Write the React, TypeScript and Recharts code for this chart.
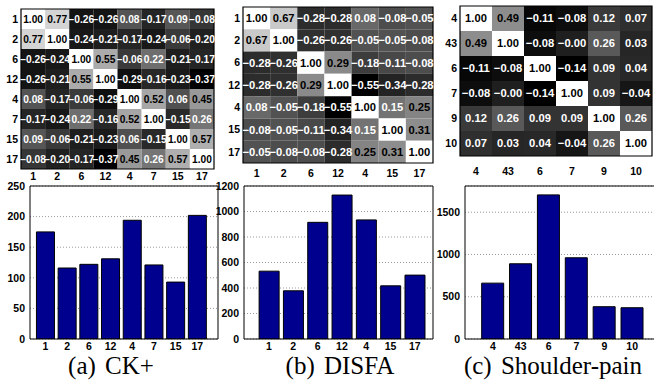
import React from 'react';
import {
  ScatterChart,
  Scatter,
  XAxis,
  YAxis,
  ReferenceArea,
  BarChart,
  Bar,
  CartesianGrid,
} from 'recharts';

// (a) CK+
const ckAus = ['1', '2', '6', '12', '4', '7', '15', '17'];
const ckCorr = [
  [1.0, 0.77, -0.26, -0.26, 0.08, -0.17, 0.09, -0.08],
  [0.77, 1.0, -0.24, -0.21, -0.17, -0.24, -0.06, -0.2],
  [-0.26, -0.24, 1.0, 0.55, -0.06, 0.22, -0.21, -0.17],
  [-0.26, -0.21, 0.55, 1.0, -0.29, -0.16, -0.23, -0.37],
  [0.08, -0.17, -0.06, -0.29, 1.0, 0.52, 0.06, 0.45],
  [-0.17, -0.24, 0.22, -0.16, 0.52, 1.0, -0.15, 0.26],
  [0.09, -0.06, -0.21, -0.23, 0.06, -0.15, 1.0, 0.57],
  [-0.08, -0.2, -0.17, -0.37, 0.45, 0.26, 0.57, 1.0],
];
const ckCounts = [175, 116, 122, 131, 194, 121, 93, 202];
const ckTicks = [0, 50, 100, 150, 200, 250];
const ckMax = 250;

// (b) DISFA
const disfaAus = ['1', '2', '6', '12', '4', '15', '17'];
const disfaCorr = [
  [1.0, 0.67, -0.28, -0.28, 0.08, -0.08, -0.05],
  [0.67, 1.0, -0.26, -0.26, -0.05, -0.05, -0.08],
  [-0.28, -0.26, 1.0, 0.29, -0.18, -0.11, -0.08],
  [-0.28, -0.26, 0.29, 1.0, -0.55, -0.34, -0.28],
  [0.08, -0.05, -0.18, -0.55, 1.0, 0.15, 0.25],
  [-0.08, -0.05, -0.11, -0.34, 0.15, 1.0, 0.31],
  [-0.05, -0.08, -0.08, -0.28, 0.25, 0.31, 1.0],
];
const disfaCounts = [532, 378, 915, 1129, 934, 417, 501];
const disfaTicks = [0, 200, 400, 600, 800, 1000, 1200];
const disfaMax = 1200;

// (c) Shoulder-pain
const painAus = ['4', '43', '6', '7', '9', '10'];
const painCorr = [
  [1.0, 0.49, -0.11, -0.08, 0.12, 0.07],
  [0.49, 1.0, -0.08, -0.0, 0.26, 0.03],
  [-0.11, -0.08, 1.0, -0.14, 0.09, 0.04],
  [-0.08, -0.0, -0.14, 1.0, 0.09, -0.04],
  [0.12, 0.26, 0.09, 0.09, 1.0, 0.26],
  [0.07, 0.03, 0.04, -0.04, 0.26, 1.0],
];
const painCounts = [661, 890, 1705, 961, 382, 370];
const painTicks = [0, 500, 1000, 1500];
const painMax = 1810;

const SANS = '"Liberation Sans", Arial, sans-serif';
const tickStyle = { fill: '#000', fontSize: 10.5, fontWeight: 'bold', fontFamily: SANS };

const fmt = (v: number) =>
  (v < 0 || Object.is(v, -0) ? '\u2212' : '') + Math.abs(v).toFixed(2);

type Margin = { top: number; right: number; left: number; bottom: number };

function Heatmap({
  labels, corr, width, height, margin, yAxisWidth, xAxisHeight, tickMargin, fontSize,
}: {
  labels: string[]; corr: number[][]; width: number; height: number; margin: Margin;
  yAxisWidth: number; xAxisHeight: number; tickMargin: number; fontSize: number;
}) {
  const n = labels.length;
  const flat = corr.flat();
  const lo = Math.min(...flat);
  const hi = Math.max(...flat);
  const cells = corr.flatMap((row, r) => row.map((v, c) => ({ x: c, y: r, v })));
  const idx = labels.map((_, i) => i);

  return (
    <ScatterChart width={width} height={height} margin={margin}>
      <XAxis
        type="number"
        dataKey="x"
        domain={[-0.5, n - 0.5]}
        ticks={idx}
        interval={0}
        tickFormatter={(i) => labels[i]}
        axisLine={false}
        tickLine={false}
        tickSize={0}
        tickMargin={tickMargin}
        height={xAxisHeight}
        tick={tickStyle}
      />
      <YAxis
        type="number"
        dataKey="y"
        reversed
        domain={[-0.5, n - 0.5]}
        ticks={idx}
        interval={0}
        tickFormatter={(i) => labels[i]}
        axisLine={false}
        tickLine={false}
        tickSize={0}
        tickMargin={3}
        width={yAxisWidth}
        tick={tickStyle}
      />
      <Scatter data={cells} shape={() => <g />} isAnimationActive={false} />
      {cells.map((c) => {
        const t = (c.v - lo) / (hi - lo);
        const g = Math.round(255 * t);
        return (
          <ReferenceArea
            key={`${c.x}-${c.y}`}
            x1={c.x - 0.5}
            x2={c.x + 0.5}
            y1={c.y - 0.5}
            y2={c.y + 0.5}
            fill={`rgb(${g},${g},${g})`}
            fillOpacity={1}
            stroke="none"
            label={{
              value: fmt(c.v),
              position: 'center',
              fill: t > 0.5 ? '#000' : '#fff',
              fontSize,
              fontWeight: 'bold',
              fontFamily: SANS,
            }}
          />
        );
      })}
      <ReferenceArea x1={-0.5} x2={n - 0.5} y1={-0.5} y2={n - 0.5} fill="none" stroke="#000" strokeWidth={1.2} />
    </ScatterChart>
  );
}

function Counts({
  labels, counts, ticks, max, width, height, margin, yAxisWidth, padding, gap,
}: {
  labels: string[]; counts: number[]; ticks: number[]; max: number; width: number; height: number;
  margin: Margin; yAxisWidth: number; padding: { left: number; right: number }; gap: string;
}) {
  const data = labels.map((au, i) => ({ au, count: counts[i] }));
  return (
    <BarChart width={width} height={height} data={data} margin={margin} barCategoryGap={gap}>
      <CartesianGrid vertical={false} stroke="#9a9a9a" strokeDasharray="1 2" />
      <XAxis
        dataKey="au"
        interval={0}
        padding={padding}
        axisLine={{ stroke: '#000' }}
        tickLine={false}
        tickSize={0}
        tickMargin={4}
        height={16}
        tick={tickStyle}
      />
      {/* top edge of the box */}
      <XAxis
        xAxisId="t"
        dataKey="au"
        orientation="top"
        height={1}
        padding={padding}
        tick={false}
        tickLine={false}
        axisLine={{ stroke: '#000' }}
      />
      <YAxis
        domain={[0, max]}
        ticks={ticks}
        interval={0}
        allowDataOverflow
        axisLine={{ stroke: '#000' }}
        tickLine={false}
        tickSize={0}
        tickMargin={5}
        width={yAxisWidth}
        tick={tickStyle}
      />
      {/* right edge of the box */}
      <YAxis
        yAxisId="r"
        orientation="right"
        domain={[0, max]}
        width={1}
        tick={false}
        tickLine={false}
        axisLine={{ stroke: '#000' }}
      />
      <Bar dataKey="count" fill="#00008F" stroke="#000" strokeWidth={1} isAnimationActive={false} />
    </BarChart>
  );
}

const captionStyle: React.CSSProperties = {
  position: 'absolute',
  top: 351,
  width: 220,
  textAlign: 'center',
  fontFamily: '"Liberation Serif", "Times New Roman", serif',
  fontSize: 25,
  lineHeight: '30px',
  wordSpacing: 3,
  whiteSpace: 'nowrap',
};

export default function App() {
  return (
    <div
      style={{
        position: 'absolute',
        left: 0,
        top: 0,
        width: 654,
        height: 382,
        overflow: 'hidden',
        background: '#fff',
      }}
    >
      <div style={{ position: 'absolute', left: 0, top: 0 }}>
        <Heatmap labels={ckAus} corr={ckCorr} width={220} height={190}
          margin={{ top: 9, right: 6, left: 0, bottom: 0 }}
          yAxisWidth={21} xAxisHeight={21} tickMargin={4} fontSize={10.2} />
      </div>
      <div style={{ position: 'absolute', left: 215, top: 0 }}>
        <Heatmap labels={disfaAus} corr={disfaCorr} width={220} height={190}
          margin={{ top: 7, right: 2, left: 0, bottom: 0 }}
          yAxisWidth={28} xAxisHeight={27} tickMargin={7} fontSize={11.2} />
      </div>
      <div style={{ position: 'absolute', left: 430, top: 0 }}>
        <Heatmap labels={painAus} corr={painCorr} width={224} height={190}
          margin={{ top: 6, right: 2, left: 0, bottom: 0 }}
          yAxisWidth={30} xAxisHeight={34} tickMargin={12} fontSize={11.2} />
      </div>

      <div style={{ position: 'absolute', left: 0, top: 180 }}>
        <Counts labels={ckAus} counts={ckCounts} ticks={ckTicks} max={ckMax} width={220} height={175}
          margin={{ top: 5, right: 1, left: 0, bottom: 0 }} yAxisWidth={30}
          padding={{ left: 4.6, right: 9.8 }} gap="8.5%" />
      </div>
      <div style={{ position: 'absolute', left: 215, top: 180 }}>
        <Counts labels={disfaAus} counts={disfaCounts} ticks={disfaTicks} max={disfaMax} width={220} height={175}
          margin={{ top: 5, right: 1, left: 0, bottom: 0 }} yAxisWidth={29}
          padding={{ left: 12.8, right: 6 }} gap="9.5%" />
      </div>
      <div style={{ position: 'absolute', left: 430, top: 180 }}>
        <Counts labels={painAus} counts={painCounts} ticks={painTicks} max={painMax} width={235} height={175}
          margin={{ top: 5, right: 4, left: 0, bottom: 0 }} yAxisWidth={35}
          padding={{ left: 13.9, right: 13.9 }} gap="10%" />
      </div>

      <div style={{ ...captionStyle, left: 1 }}>(a) CK+</div>
      <div style={{ ...captionStyle, left: 230 }}>(b) DISFA</div>
      <div style={{ ...captionStyle, left: 443 }}>(c) Shoulder-pain</div>
    </div>
  );
}
